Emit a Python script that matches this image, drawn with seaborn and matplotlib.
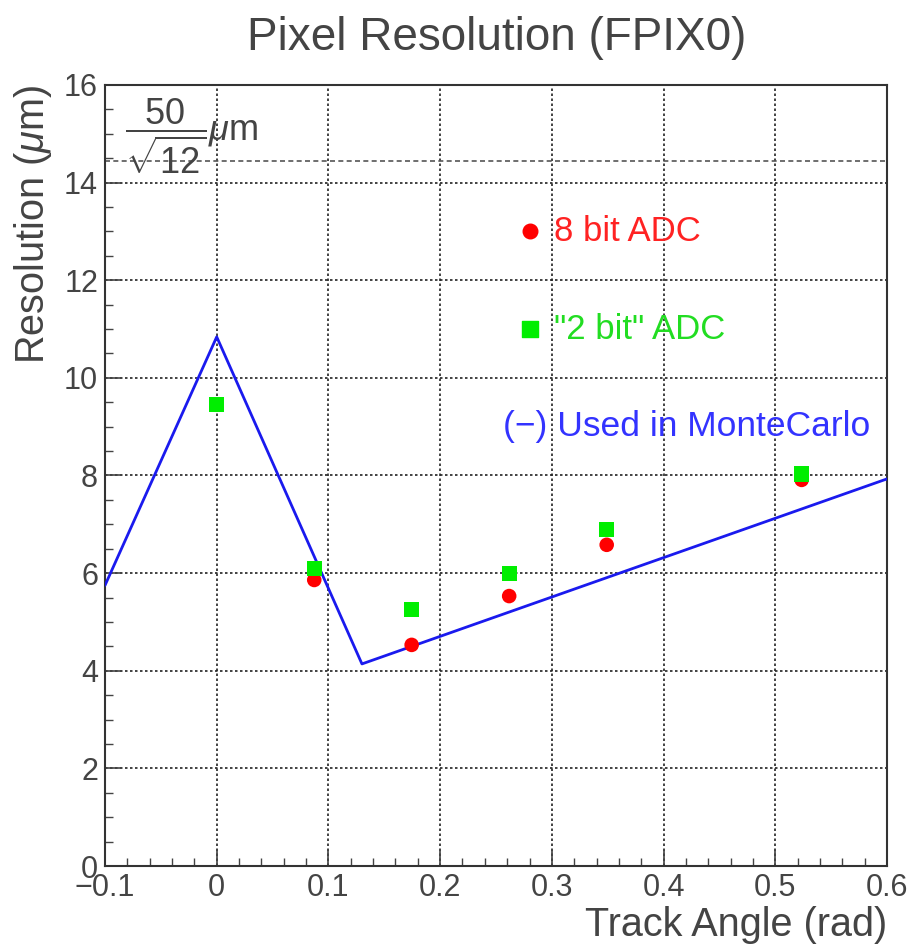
import numpy as np
import pandas as pd
import matplotlib
matplotlib.use("Agg")
import matplotlib.pyplot as plt
import seaborn as sns

# track angle (rad) and measured resolution (um)
angle_8bit = [0.0873, 0.1745, 0.2618, 0.3491, 0.5236]
res_8bit = [5.86, 4.53, 5.53, 6.58, 7.91]

angle_2bit = [0.0, 0.0873, 0.1745, 0.2618, 0.3491, 0.5236]
res_2bit = [9.45, 6.10, 5.25, 6.00, 6.89, 8.03]

# parametrisation used in MonteCarlo
angle_mc = [-0.1, 0.0, 0.13, 0.6]
res_mc = [5.75, 10.84, 4.14, 7.93]

binary_res = 50 / np.sqrt(12)

sns.set_theme(style="white")
plt.rcParams['font.family'] = ['Liberation Sans', 'DejaVu Sans']
plt.rcParams['mathtext.fontset'] = 'custom'
plt.rcParams['mathtext.rm'] = 'Liberation Sans'
plt.rcParams['mathtext.it'] = 'Liberation Sans:italic'

fig = plt.figure(figsize=(9.1, 9.44), dpi=100)
ax = fig.add_axes([0.1154, 0.0826, 0.8593, 0.8274])

df8 = pd.DataFrame({'angle': angle_8bit, 'res': res_8bit})
df2 = pd.DataFrame({'angle': angle_2bit, 'res': res_2bit})
dmc = pd.DataFrame({'angle': angle_mc, 'res': res_mc})

sns.lineplot(data=dmc, x='angle', y='res', color='#1a1aee', lw=2, ax=ax,
             sort=False, zorder=3)
sns.scatterplot(data=df8, x='angle', y='res', color='#ff0000', marker='o',
                s=110, edgecolor='none', ax=ax, zorder=4)
sns.scatterplot(data=df2, x='angle', y='res', color='#00ee00', marker='s',
                s=120, edgecolor='none', ax=ax, zorder=5)

ax.axhline(binary_res, color='#555555', ls=(0, (3, 2)), lw=1.2, zorder=2)

ax.set_xlim(-0.1, 0.6)
ax.set_ylim(0, 16)
ax.set_xticks(np.arange(-0.1, 0.61, 0.1))
ax.set_xticklabels(['\u22120.1', '0', '0.1', '0.2', '0.3', '0.4', '0.5', '0.6'])
ax.set_yticks(np.arange(0, 17, 2))
ax.set_xticks(np.arange(-0.1, 0.6, 0.02), minor=True)
ax.set_yticks(np.arange(0, 16, 0.5), minor=True)

ax.grid(True, which='major', color='#222222', ls=(0, (1.5, 1.5)), lw=1.2)
ax.tick_params(which='major', direction='in', length=12, width=1.2,
               labelsize=22, colors='#444444', pad=5)
ax.tick_params(which='minor', direction='in', length=6, width=1.0,
               colors='#444444')
ax.tick_params(left=True, bottom=True, which='both')
for sp in ax.spines.values():
    sp.set_color('#333333')
    sp.set_linewidth(1.5)

ax.set_xlabel('Track Angle (rad)', fontsize=28.5, color='#444444')
ax.xaxis.set_label_coords(1.0, -0.051)
ax.xaxis.label.set_horizontalalignment('right')
ax.set_ylabel('Resolution ($\\mu$m)', fontsize=28.5, color='#444444')
ax.yaxis.set_label_coords(-0.065, 1.0)
ax.yaxis.label.set_horizontalalignment('right')

fig.text(0.546, 0.960, 'Pixel Resolution (FPIX0)', fontsize=33,
         color='#444444', ha='center', va='center')

ax.text(0.025, 0.935, r'$\dfrac{50}{\sqrt{12}}\mu$m', transform=ax.transAxes,
        fontsize=26, color='#444444', va='center', ha='left')

# legend texts placed by hand like in the original
ax.scatter([0.2805], [13.0], color='#ff0000', marker='o', s=110, zorder=5)
ax.text(0.302, 13.0, '8 bit ADC', color='#ff2222', fontsize=25, va='center')
ax.scatter([0.2805], [11.0], color='#00ee00', marker='s', s=120, zorder=5)
ax.text(0.302, 11.0, '"2 bit" ADC', color='#22dd22', fontsize=25, va='center')
ax.text(0.256, 9.0, '(\u2212) Used in MonteCarlo', color='#3333ff',
        fontsize=25.5, va='center')

fig.savefig('out.png', dpi=100, facecolor='white')
